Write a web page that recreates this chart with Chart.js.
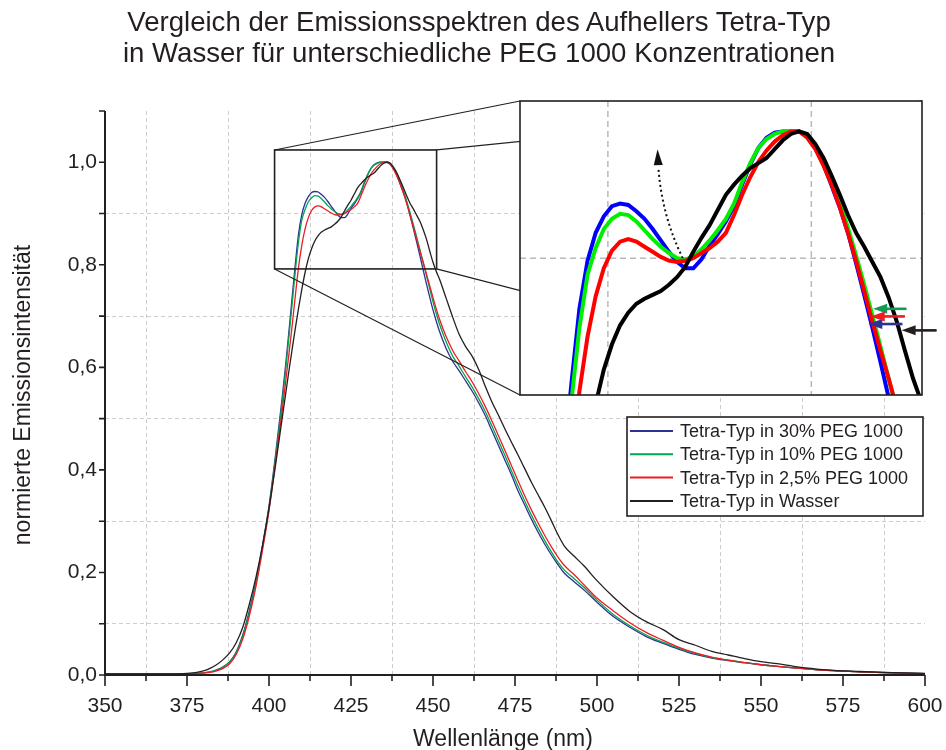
<!DOCTYPE html>
<html>
<head>
<meta charset="utf-8">
<script src="https://cdn.jsdelivr.net/npm/chart.js@4.4.1/dist/chart.umd.min.js"></script>
<style>
  html, body { margin: 0; padding: 0; background: #ffffff; }
  #wrap { position: relative; width: 946px; height: 750px; overflow: hidden; }
  .txt { position: absolute; font-family: "Liberation Sans", Arial, sans-serif; color: #231f20; text-align: center; white-space: nowrap; }
  #title { left: 6px; top: 6px; width: 946px; font-size: 27.6px; line-height: 31px; }
  #xtitle { left: 303px; top: 724px; width: 400px; font-size: 23px; line-height: 28px; }
  #ytitle { left: -178px; top: 381px; width: 400px; font-size: 23px; line-height: 28px; transform: rotate(-90deg); transform-origin: 50% 50%; }
  #main { position: absolute; left: 0; top: 0; }
  #inset { position: absolute; left: 505px; top: 90px; }
</style>
</head>
<body>
<div id="wrap">
  <canvas id="main" width="946" height="750"></canvas>
  <div id="title" class="txt">Vergleich der Emissionsspektren des Aufhellers Tetra-Typ<br>in Wasser für unterschiedliche PEG 1000 Konzentrationen</div>
  <div id="xtitle" class="txt">Wellenlänge (nm)</div>
  <div id="ytitle" class="txt">normierte Emissionsintensität</div>
  <canvas id="inset" width="441" height="320"></canvas>
</div>
<script>
// Wavelengths (nm)
const wavelength = [350,360,370,375,378,380,382,384,386,388,390,392,394,396,398,400,402,404,
  405,406,407,408,409,410,411,412,413,414,415,416,417,418,419,420,421,422,423,424,425,426,427,428,429,430,
  431,432,433,434,435,436,437,438,439,440,441,442,443,444,445,446,447,448,449,450,451,
  452,454,456,458,460,462,464,466,468,470,472,474,476,478,480,482,484,486,488,490,
  493,496,500,505,510,515,520,525,530,535,540,545,550,555,560,570,580,590,600];

// Normalised emission intensity per sample
const peg30 = [0.002,0.002,0.002,0.002,0.003,0.004,0.006,0.010,0.016,0.026,0.045,0.078,0.125,0.182,0.252,0.330,0.430,0.540,
  0.600,0.665,0.733,0.800,0.860,0.898,0.920,0.933,0.941,0.943,0.942,0.937,0.931,0.923,0.914,0.905,
  0.897,0.892,0.892,0.899,0.910,0.919,0.929,0.941,0.958,0.974,
  0.987,0.995,0.999,1.000,1.000,1.000,0.996,0.987,0.974,0.957,
  0.940,0.920,0.896,0.871,0.845,0.818,0.790,0.763,0.737,0.712,0.690,
  0.670,0.637,0.612,0.593,0.573,0.553,0.530,0.505,0.476,0.447,0.418,0.389,0.358,0.331,0.304,0.279,0.256,0.235,0.216,0.199,
  0.182,0.166,0.142,0.114,0.093,0.075,0.062,0.050,0.040,0.033,0.028,0.024,0.020,0.017,0.014,0.009,0.006,0.004,0.0025];

const peg10 = [0.002,0.002,0.002,0.002,0.003,0.004,0.006,0.009,0.015,0.025,0.043,0.075,0.121,0.178,0.248,0.326,0.423,0.530,
  0.590,0.655,0.720,0.786,0.845,0.887,0.908,0.923,0.931,0.935,0.934,0.929,0.922,0.915,0.909,0.904,
  0.900,0.899,0.901,0.907,0.914,0.922,0.931,0.943,0.960,0.975,
  0.987,0.994,0.998,1.000,1.000,1.000,0.996,0.988,0.977,0.962,
  0.944,0.924,0.902,0.879,0.855,0.830,0.805,0.779,0.753,0.728,0.705,
  0.684,0.650,0.622,0.602,0.581,0.561,0.538,0.513,0.485,0.456,0.427,0.397,0.367,0.339,0.312,0.287,0.263,0.241,0.221,0.205,
  0.188,0.171,0.146,0.118,0.096,0.078,0.064,0.052,0.042,0.034,0.029,0.024,0.020,0.017,0.014,0.009,0.006,0.004,0.0025];

const peg25 = [0.002,0.002,0.002,0.002,0.003,0.004,0.005,0.008,0.013,0.022,0.040,0.070,0.115,0.172,0.243,0.320,0.415,0.515,
  0.568,0.622,0.678,0.738,0.795,0.838,0.870,0.892,0.906,0.913,0.915,0.913,0.909,0.905,0.901,0.898,
  0.897,0.898,0.900,0.904,0.908,0.913,0.920,0.934,0.950,0.964,
  0.976,0.985,0.992,0.997,1.000,1.000,0.995,0.986,0.973,0.958,
  0.940,0.920,0.898,0.874,0.850,0.827,0.805,0.782,0.759,0.736,0.714,
  0.694,0.660,0.633,0.612,0.591,0.571,0.548,0.523,0.495,0.466,0.437,0.407,0.378,0.349,0.322,0.297,0.273,0.251,0.231,0.214,
  0.196,0.176,0.150,0.125,0.102,0.083,0.068,0.054,0.043,0.035,0.029,0.024,0.020,0.017,0.014,0.009,0.006,0.004,0.0025];

const wasser = [0.002,0.002,0.002,0.003,0.005,0.008,0.013,0.020,0.030,0.043,0.063,0.093,0.138,0.190,0.252,0.325,0.410,0.500,
  0.545,0.590,0.633,0.675,0.715,0.752,0.785,0.812,0.832,0.847,0.857,0.864,0.868,0.871,0.874,0.879,
  0.885,0.893,0.905,0.916,0.926,0.938,0.950,0.958,0.965,0.971,
  0.975,0.979,0.986,0.993,0.998,1.000,0.998,0.990,0.979,0.965,
  0.950,0.934,0.920,0.909,0.897,0.885,0.869,0.850,0.827,0.805,0.787,
  0.772,0.735,0.698,0.664,0.640,0.621,0.595,0.562,0.532,0.506,0.479,0.453,0.428,0.402,0.376,0.352,0.328,0.302,0.275,0.252,
  0.232,0.213,0.184,0.152,0.124,0.104,0.089,0.069,0.058,0.046,0.039,0.032,0.026,0.022,0.017,0.010,0.0068,0.0045,0.003];

const seriesLabels = ['Tetra-Typ in 30% PEG 1000', 'Tetra-Typ in 10% PEG 1000', 'Tetra-Typ in 2,5% PEG 1000', 'Tetra-Typ in Wasser'];
const seriesColors = ['#2e3192', '#00a651', '#ed1c24', '#231f20'];
const insetColors = ['#0000ff', '#00ee00', '#ff0000', '#000000'];
const arrowColors = ['#2e3192', '#0f9b55', '#ed1c24', '#231f20'];

// Axis ticks and labels
const xTickLabels = [350, 375, 400, 425, 450, 475, 500, 525, 550, 575, 600];
const xMinorTicks = [362.5, 387.5, 412.5, 437.5, 462.5, 487.5, 512.5, 537.5, 562.5, 587.5];
const yTickLabels = ['0,0', '0,2', '0,4', '0,6', '0,8', '1,0'];
const yTickValues = [0, 0.1, 0.2, 0.3, 0.4, 0.5, 0.6, 0.7, 0.8, 0.9, 1.0, 1.1];

// Enlarged window: wavelength range and intensity range
const zoomX = [401.7, 451.1];
const zoomY = [0.792, 1.024];
const insetGridX = [412.5, 437.5];
const insetGridY = [0.9];

// Arrows in the enlarged view: tip nm, tail nm and intensity, same order as the series
const arrowTipNm = [444.5, 445.1, 444.8, 448.6];
const arrowTailNm = [448.7, 449.2, 449.0, 452.9];
const arrowLevel = [0.848, 0.860, 0.854, 0.843];
// Dotted arrow from the valley up to the rising first maximum
const trendStart = [421.7, 0.900];
const trendCtrl = [419.1, 0.934];
const trendEnd = [418.7, 0.972];
const trendTip = [418.6, 0.986];

const INSET = { left: 520, top: 101, right: 922, bottom: 395 };
const series = [peg30, peg10, peg25, wasser];
const drawOrder = [3, 2, 1, 0];

const toPoints = vals => wavelength.map((w, i) => ({ x: w, y: vals[i] }));
const FONT = '"Liberation Sans", Arial, sans-serif';
const INK = '#231f20';

const isMultiple = (v, step) => Math.abs(v / step - Math.round(v / step)) < 1e-6;

const mainDecor = {
  id: 'mainDecor',
  afterDatasetsDraw(chart) {
    const { ctx, chartArea: a, scales: { x, y } } = chart;
    ctx.save();
    // axis lines
    ctx.strokeStyle = INK;
    ctx.lineWidth = 2;
    ctx.beginPath();
    ctx.moveTo(a.left, a.top);
    ctx.lineTo(a.left, a.bottom);
    ctx.lineTo(a.right, a.bottom);
    ctx.stroke();
    // tick marks
    ctx.lineWidth = 1.6;
    ctx.beginPath();
    x.ticks.forEach(t => {
      const px = x.getPixelForValue(t.value);
      const len = isMultiple(t.value, 25) ? 11 : 6;
      ctx.moveTo(px, a.bottom);
      ctx.lineTo(px, a.bottom + len);
    });
    y.ticks.forEach(t => {
      const py = y.getPixelForValue(t.value);
      ctx.moveTo(a.left, py);
      ctx.lineTo(a.left - 6, py);
    });
    ctx.stroke();

    // zoom window and connectors to the enlarged view
    const x0 = x.getPixelForValue(zoomX[0]), x1 = x.getPixelForValue(zoomX[1]);
    const y0 = y.getPixelForValue(zoomY[1]), y1 = y.getPixelForValue(zoomY[0]);
    ctx.lineWidth = 1.2;
    ctx.beginPath();
    ctx.moveTo(x0, y0); ctx.lineTo(INSET.left, INSET.top);
    ctx.moveTo(x1, y0); ctx.lineTo(INSET.right, INSET.top);
    ctx.moveTo(x0, y1); ctx.lineTo(INSET.left, INSET.bottom);
    ctx.moveTo(x1, y1); ctx.lineTo(INSET.right, INSET.bottom);
    ctx.stroke();
    ctx.lineWidth = 1.6;
    ctx.strokeRect(x0, y0, x1 - x0, y1 - y0);

    // legend
    const L = { left: 627, top: 417, right: 923, bottom: 516 };
    ctx.fillStyle = '#ffffff';
    ctx.fillRect(L.left, L.top, L.right - L.left, L.bottom - L.top);
    ctx.strokeStyle = INK;
    ctx.lineWidth = 1.6;
    ctx.strokeRect(L.left, L.top, L.right - L.left, L.bottom - L.top);
    ctx.font = '18px ' + FONT;
    ctx.textBaseline = 'middle';
    ctx.textAlign = 'left';
    seriesLabels.forEach((lab, i) => {
      const ry = L.top + 14 + i * 23.3;
      ctx.strokeStyle = seriesColors[i];
      ctx.lineWidth = 2;
      ctx.beginPath();
      ctx.moveTo(L.left + 3, ry);
      ctx.lineTo(L.left + 46, ry);
      ctx.stroke();
      ctx.fillStyle = INK;
      ctx.fillText(lab, L.left + 53, ry + 1);
    });
    ctx.restore();
  }
};

new Chart(document.getElementById('main'), {
  type: 'line',
  data: {
    datasets: series.map((vals, i) => ({
      label: seriesLabels[i],
      data: toPoints(vals),
      borderColor: seriesColors[i],
      borderWidth: 1.3,
      pointRadius: 0,
      cubicInterpolationMode: 'monotone',
      order: drawOrder[i],
      fill: false
    }))
  },
  options: {
    responsive: false,
    animation: false,
    layout: { padding: { left: 0, right: 21, top: 111, bottom: 0 } },
    plugins: { legend: { display: false }, tooltip: { enabled: false }, title: { display: false } },
    scales: {
      x: {
        type: 'linear', min: 350, max: 600,
        afterBuildTicks: s => { s.ticks = xTickLabels.concat(xMinorTicks).sort((a, b) => a - b).map(v => ({ value: v })); },
        afterFit: s => { s.height = 75; s.paddingLeft = 0; s.paddingRight = 0; },
        grid: {
          drawTicks: false, lineWidth: 1,
          color: c => (c.tick && !isMultiple(c.tick.value, 25)) ? '#cdcdcd' : 'rgba(0,0,0,0)'
        },
        border: { display: false, dash: [4, 3] },
        ticks: {
          padding: 19, autoSkip: false, maxRotation: 0, color: INK,
          font: { family: FONT, size: 21 },
          callback: v => xTickLabels.includes(v) ? String(v) : ''
        }
      },
      y: {
        type: 'linear', min: 0, max: 1.1,
        afterBuildTicks: s => { s.ticks = yTickValues.map(v => ({ value: v })); },
        afterFit: s => { s.width = 105; s.paddingTop = 0; s.paddingBottom = 0; },
        grid: {
          drawTicks: false, lineWidth: 1,
          color: c => (c.tick && !isMultiple(c.tick.value, 0.2) && c.tick.value < 1.05) ? '#cdcdcd' : 'rgba(0,0,0,0)'
        },
        border: { display: false, dash: [4, 3] },
        ticks: {
          padding: 8, color: INK,
          font: { family: FONT, size: 21 },
          callback: v => isMultiple(v, 0.2) ? yTickLabels[Math.round(v / 0.2)] || '' : ''
        }
      }
    }
  },
  plugins: [mainDecor]
});

function arrowHead(ctx, tx, ty, dx, dy, len, half) {
  const n = Math.hypot(dx, dy) || 1;
  const ux = dx / n, uy = dy / n;
  ctx.beginPath();
  ctx.moveTo(tx, ty);
  ctx.lineTo(tx - ux * len - uy * half, ty - uy * len + ux * half);
  ctx.lineTo(tx - ux * len + uy * half, ty - uy * len - ux * half);
  ctx.closePath();
  ctx.fill();
}

const insetDecor = {
  id: 'insetDecor',
  beforeDraw(chart) {
    const { ctx, chartArea: a } = chart;
    ctx.save();
    ctx.fillStyle = '#ffffff';
    ctx.fillRect(a.left, a.top, a.right - a.left, a.bottom - a.top);
    ctx.restore();
  },
  beforeDatasetsDraw(chart) {
    const { ctx, chartArea: a, scales: { x, y } } = chart;
    ctx.save();
    ctx.strokeStyle = '#b9b9b9';
    ctx.lineWidth = 1.5;
    ctx.setLineDash([6, 4]);
    ctx.beginPath();
    insetGridX.forEach(v => { const px = x.getPixelForValue(v); ctx.moveTo(px, a.top); ctx.lineTo(px, a.bottom); });
    insetGridY.forEach(v => { const py = y.getPixelForValue(v); ctx.moveTo(a.left, py); ctx.lineTo(a.right, py); });
    ctx.stroke();
    ctx.restore();
  },
  afterDraw(chart) {
    const { ctx, chartArea: a, scales: { x, y } } = chart;
    ctx.save();
    // frame
    ctx.strokeStyle = INK;
    ctx.lineWidth = 1.6;
    ctx.strokeRect(a.left, a.top, a.right - a.left, a.bottom - a.top);

    // series markers
    arrowTipNm.forEach((tip, i) => {
      const tx = x.getPixelForValue(tip), ty = y.getPixelForValue(arrowLevel[i]);
      const sx = x.getPixelForValue(arrowTailNm[i]);
      ctx.strokeStyle = arrowColors[i];
      ctx.fillStyle = arrowColors[i];
      ctx.lineWidth = 2.6;
      ctx.beginPath();
      ctx.moveTo(sx, ty);
      ctx.lineTo(tx + 8, ty);
      ctx.stroke();
      arrowHead(ctx, tx, ty, -1, 0, 14, 5);
    });

    // dotted trend arrow
    const p0 = [x.getPixelForValue(trendStart[0]), y.getPixelForValue(trendStart[1])];
    const pc = [x.getPixelForValue(trendCtrl[0]), y.getPixelForValue(trendCtrl[1])];
    const p1 = [x.getPixelForValue(trendEnd[0]), y.getPixelForValue(trendEnd[1])];
    const pt = [x.getPixelForValue(trendTip[0]), y.getPixelForValue(trendTip[1])];
    ctx.strokeStyle = '#111111';
    ctx.fillStyle = '#111111';
    ctx.lineWidth = 2;
    ctx.setLineDash([2, 3]);
    ctx.beginPath();
    ctx.moveTo(p0[0], p0[1]);
    ctx.quadraticCurveTo(pc[0], pc[1], p1[0], p1[1]);
    ctx.stroke();
    ctx.setLineDash([]);
    arrowHead(ctx, pt[0], pt[1], pt[0] - p1[0], pt[1] - p1[1], 16, 4.5);
    ctx.restore();
  }
};

new Chart(document.getElementById('inset'), {
  type: 'line',
  data: {
    datasets: series.map((vals, i) => ({
      label: seriesLabels[i],
      data: toPoints(vals),
      borderColor: insetColors[i],
      borderWidth: 4,
      pointRadius: 0,
      tension: 0,
      clip: 0,
      order: drawOrder[i],
      fill: false
    }))
  },
  options: {
    responsive: false,
    animation: false,
    layout: { padding: { left: 15, top: 11, right: 24, bottom: 15 } },
    plugins: { legend: { display: false }, tooltip: { enabled: false } },
    scales: {
      x: { type: 'linear', display: false, min: zoomX[0], max: zoomX[1] },
      y: { type: 'linear', display: false, min: zoomY[0], max: zoomY[1] }
    }
  },
  plugins: [insetDecor]
});
</script>
</body>
</html>
